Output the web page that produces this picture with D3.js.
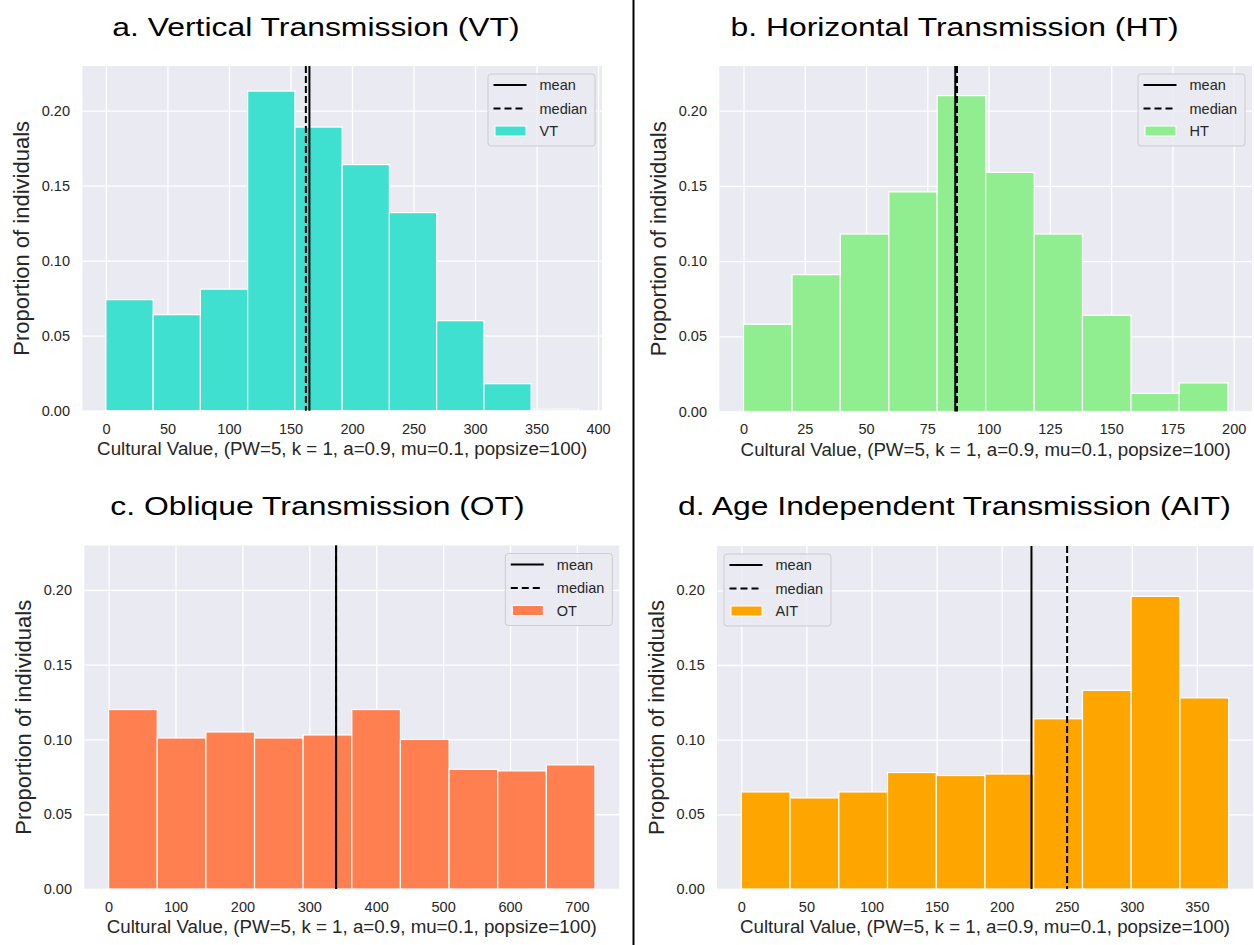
<!DOCTYPE html>
<html>
<head>
<meta charset="utf-8">
<script src="https://cdn.jsdelivr.net/npm/d3@7"></script>
<style>
  body { margin: 0; background: #fff; }
  svg text { font-family: "Liberation Sans", Arial, sans-serif; }
</style>
</head>
<body>
<svg id="fig" width="1254" height="945"></svg>
<script>
// values (proportion of individuals per bin)
const yTicks = [0, 0.05, 0.10, 0.15, 0.20];
const yTop = 0.2297;

const vtEdges = [0, 38.4, 76.8, 115.2, 153.6, 192, 230.4, 268.8, 307.2, 345.6, 384];
const vtProps = [0.074, 0.064, 0.081, 0.213, 0.189, 0.164, 0.132, 0.060, 0.018, 0.001];
const vtMean = 165.4;
const vtMedian = 162.5;
const vtTicks = [0, 50, 100, 150, 200, 250, 300, 350, 400];

const htEdges = [0, 19.8, 39.5, 59.3, 79, 98.8, 118.6, 138.3, 158.1, 177.8, 197.6];
const htProps = [0.058, 0.091, 0.118, 0.146, 0.210, 0.159, 0.118, 0.064, 0.012, 0.019];
const htMean = 86.4;
const htMedian = 87.1;
const htTicks = [0, 25, 50, 75, 100, 125, 150, 175, 200];

const otEdges = [0, 72.7, 145.4, 218.1, 290.8, 363.5, 436.2, 508.9, 581.6, 654.3, 727];
const otProps = [0.120, 0.101, 0.105, 0.101, 0.103, 0.120, 0.100, 0.080, 0.079, 0.083];
const otMean = 340;
const otMedian = 340;
const otTicks = [0, 100, 200, 300, 400, 500, 600, 700];

const aitEdges = [0, 37.4, 74.9, 112.3, 149.8, 187.2, 224.6, 262.1, 299.5, 337, 374.4];
const aitProps = [0.065, 0.061, 0.065, 0.078, 0.076, 0.077, 0.114, 0.133, 0.196, 0.128];
const aitMean = 222.9;
const aitMedian = 250.3;
const aitTicks = [0, 50, 100, 150, 200, 250, 300, 350];

const xLabel = 'Cultural Value, (PW=5, k = 1, a=0.9, mu=0.1, popsize=100)';
const yLabel = 'Proportion of individuals';

const bg = '#EAEAF2';
const textColor = '#262626';

const panels = [
  { title: 'a. Vertical Transmission (VT)', name: 'VT', color: '#40E0D0',
    edges: vtEdges, props: vtProps, mean: vtMean, median: vtMedian, ticks: vtTicks,
    box: [82.3, 602, 66, 410.7], titleAt: [316, 35.5], legend: 'right' },
  { title: 'b. Horizontal Transmission (HT)', name: 'HT', color: '#90EE90',
    edges: htEdges, props: htProps, mean: htMean, median: htMedian, ticks: htTicks,
    box: [719.3, 1252, 66, 411.5], titleAt: [954.5, 35.5], legend: 'right' },
  { title: 'c. Oblique Transmission (OT)', name: 'OT', color: '#FF7F50',
    edges: otEdges, props: otProps, mean: otMean, median: otMedian, ticks: otTicks,
    box: [84.3, 619.3, 545.5, 889], titleAt: [317.5, 515], legend: 'right' },
  { title: 'd. Age Independent Transmission (AIT)', name: 'AIT', color: '#FFA500',
    edges: aitEdges, props: aitProps, mean: aitMean, median: aitMedian, ticks: aitTicks,
    box: [717, 1253, 546, 889], titleAt: [954.4, 515], legend: 'left' }
];

const svg = d3.select('#fig');

function drawPanel(p) {
  const [x0, x1, y0, y1] = p.box;
  const first = p.edges[0];
  const last = p.edges[p.edges.length - 1];
  const pad = (last - first) * 0.05;

  const x = d3.scaleLinear().domain([first - pad, last + pad]).range([x0, x1]);
  const y = d3.scaleLinear().domain([0, yTop]).range([y1, y0]);

  const g = svg.append('g');

  g.append('rect')
    .attr('x', x0).attr('y', y0)
    .attr('width', x1 - x0).attr('height', y1 - y0)
    .attr('fill', bg);

  // axes double as the white grid
  const xAxis = g.append('g')
    .attr('transform', `translate(0,${y1})`)
    .call(d3.axisBottom(x).tickValues(p.ticks).tickSize(-(y1 - y0))
      .tickPadding(12.6).tickFormat(d3.format('d')));
  const yAxis = g.append('g')
    .attr('transform', `translate(${x0},0)`)
    .call(d3.axisLeft(y).tickValues(yTicks).tickSize(-(x1 - x0))
      .tickPadding(12.3).tickFormat(d3.format('.2f')));

  [xAxis, yAxis].forEach((a) => {
    a.select('.domain').remove();
    a.selectAll('line').attr('stroke', '#fff').attr('stroke-width', 1.3);
    a.selectAll('text')
      .attr('fill', textColor)
      .style('font-size', '14.5px');
  });

  const bins = p.props.map((v, i) => ({ lo: p.edges[i], hi: p.edges[i + 1], v: v }));

  g.selectAll('rect.bar')
    .data(bins)
    .enter()
    .append('rect')
    .attr('class', 'bar')
    .attr('x', (d) => x(d.lo))
    .attr('y', (d) => y(d.v))
    .attr('width', (d) => x(d.hi) - x(d.lo))
    .attr('height', (d) => y(0) - y(d.v))
    .attr('fill', p.color)
    .attr('stroke', '#fff')
    .attr('stroke-width', 1.2);

  // median first so the mean sits on top where they coincide
  g.append('line')
    .attr('x1', x(p.median)).attr('x2', x(p.median))
    .attr('y1', y0).attr('y2', y1)
    .attr('stroke', '#000').attr('stroke-width', 2)
    .attr('stroke-dasharray', '7,3');
  g.append('line')
    .attr('x1', x(p.mean)).attr('x2', x(p.mean))
    .attr('y1', y0).attr('y2', y1)
    .attr('stroke', '#000').attr('stroke-width', 2);

  drawLegend(g, p, x0, x1, y0);

  // labels
  g.append('text')
    .text(xLabel)
    .attr('transform', `translate(${(x0 + x1) / 2},${y1 + 44.3}) scale(1.07,1)`)
    .attr('text-anchor', 'middle')
    .attr('fill', textColor)
    .style('font-size', '17.5px');

  g.append('text')
    .text(yLabel)
    .attr('transform', `translate(${x0 - 53.3},${(y0 + y1) / 2}) rotate(-90)`)
    .attr('text-anchor', 'middle')
    .attr('fill', textColor)
    .style('font-size', '22px');

  svg.append('text')
    .text(p.title)
    .attr('transform', `translate(${p.titleAt[0]},${p.titleAt[1]}) scale(1.25,1)`)
    .attr('text-anchor', 'middle')
    .attr('fill', '#000')
    .style('font-size', '25.5px');
}

function drawLegend(g, p, x0, x1, y0) {
  const w = 107, h = 72;
  const lx = p.legend === 'left' ? x0 + 7 : x1 - 7 - w;
  const ly = y0 + 8;

  const lg = g.append('g').attr('transform', `translate(${lx},${ly})`);
  lg.append('rect')
    .attr('width', w).attr('height', h)
    .attr('rx', 3).attr('ry', 3)
    .attr('fill', bg).attr('fill-opacity', 0.8)
    .attr('stroke', '#cccccc').attr('stroke-width', 1);

  const items = [
    { label: 'mean', kind: 'solid' },
    { label: 'median', kind: 'dash' },
    { label: p.name, kind: 'patch' }
  ];
  const rowY = [11, 34.5, 57];

  items.forEach((it, i) => {
    const cy = rowY[i];
    if (it.kind === 'patch') {
      lg.append('rect')
        .attr('x', 7).attr('y', cy - 5)
        .attr('width', 31).attr('height', 10)
        .attr('fill', p.color)
        .attr('stroke', '#fff').attr('stroke-width', 1);
    } else {
      lg.append('line')
        .attr('x1', 5.5).attr('x2', 38.5)
        .attr('y1', cy).attr('y2', cy)
        .attr('stroke', '#000').attr('stroke-width', 2)
        .attr('stroke-dasharray', it.kind === 'dash' ? '7,4' : null);
    }
    lg.append('text')
      .text(it.label)
      .attr('x', 51.5).attr('y', cy)
      .attr('dy', '0.35em')
      .attr('fill', textColor)
      .style('font-size', '14.5px');
  });
}

panels.forEach(drawPanel);

// divider between the left and right columns
svg.append('line')
  .attr('x1', 633.5).attr('x2', 633.5)
  .attr('y1', 0).attr('y2', 945)
  .attr('stroke', '#000').attr('stroke-width', 2);
</script>
</body>
</html>
